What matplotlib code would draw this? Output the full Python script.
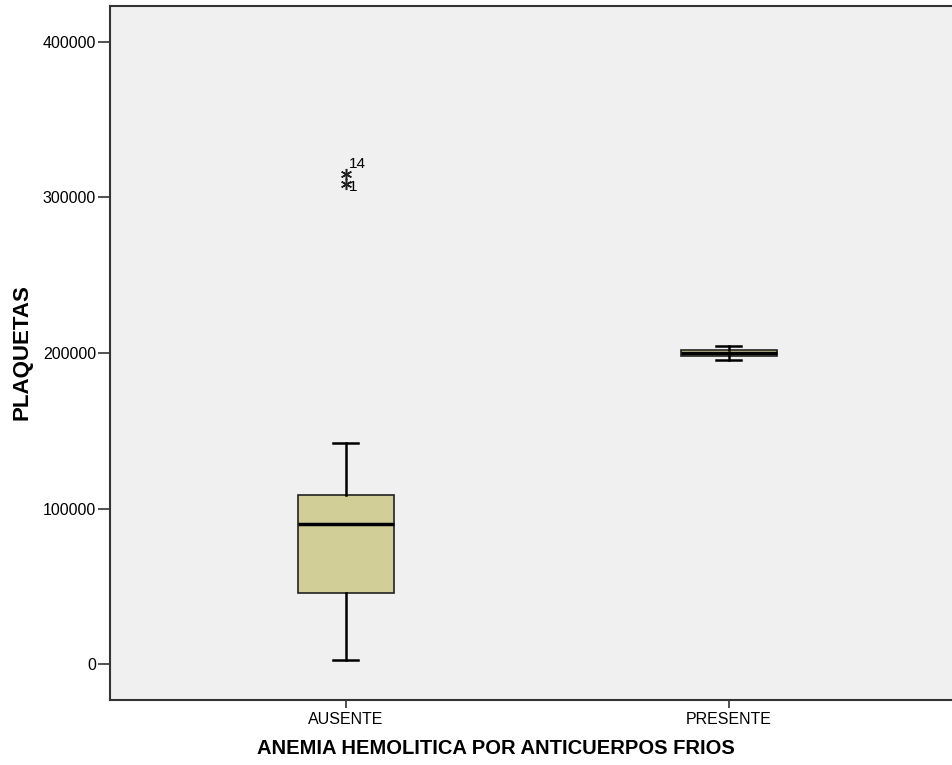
import matplotlib.pyplot as plt
import numpy as np

plt.rcParams['font.family'] = ['Liberation Sans', 'DejaVu Sans']

# Group names and five-number summaries
groups = ['AUSENTE', 'PRESENTE']
whislo = [2600, 195200]
q1 = [45600, 197900]
med = [89900, 200300]
q3 = [108500, 202200]
whishi = [141900, 204800]

# Extreme values (SPSS asterisks) of AUSENTE with case numbers
out_vals = [315300, 308800]
out_ids = ['14', '1']

stats = []
for i, g in enumerate(groups):
    stats.append({'label': g, 'whislo': whislo[i], 'q1': q1[i], 'med': med[i],
                  'q3': q3[i], 'whishi': whishi[i], 'fliers': []})

fig = plt.figure(figsize=(9.53, 7.65), dpi=100)
ax = fig.add_axes([110/953, 65/765, 845/953, 694/765])
ax.set_facecolor('#F0F0F0')

ax.bxp(stats, positions=[1, 2], widths=0.25, patch_artist=True, showfliers=False,
       boxprops=dict(facecolor='#D2CE98', edgecolor='#222222', linewidth=1.2),
       medianprops=dict(color='black', linewidth=2.5),
       whiskerprops=dict(color='black', linewidth=1.8),
       capprops=dict(color='black', linewidth=1.8),
       capwidths=0.065)

# Outliers of first group
for v in out_vals:
    ax.plot(1, v, marker=(6, 2, 0), color='#222222', markersize=8, markeredgewidth=1.1,
            linestyle='none')
ax.text(1.008, out_vals[0] + 1500, out_ids[0], fontsize=11, va='bottom', ha='left')
ax.text(1.008, out_vals[1] - 2000, out_ids[1], fontsize=11, va='center', ha='left')

ax.set_xlim(0.385, 2.59)
ax.set_ylim(-23100, 423100)
ax.set_yticks([0, 100000, 200000, 300000, 400000])
ax.set_yticklabels(['0', '100000', '200000', '300000', '400000'])
ax.set_xticks([1, 2])
ax.set_xticklabels(groups)
ax.tick_params(axis='y', labelsize=11.5, length=9, width=1.2, pad=1, color='#333333')
ax.tick_params(axis='x', labelsize=11.5, length=6, width=1.2, pad=3, color='#333333')

for s in ax.spines.values():
    s.set_linewidth(1.5)
    s.set_color('#333333')

fig.text(22/953, 1 - 352/765, 'PLAQUETAS', fontsize=16, fontweight='bold',
         rotation=90, ha='center', va='center')
fig.text(496/953, 1 - 749/765, 'ANEMIA HEMOLITICA POR ANTICUERPOS FRIOS',
         fontsize=14.5, fontweight='bold', ha='center', va='center')

fig.savefig('out.png', dpi=100)
